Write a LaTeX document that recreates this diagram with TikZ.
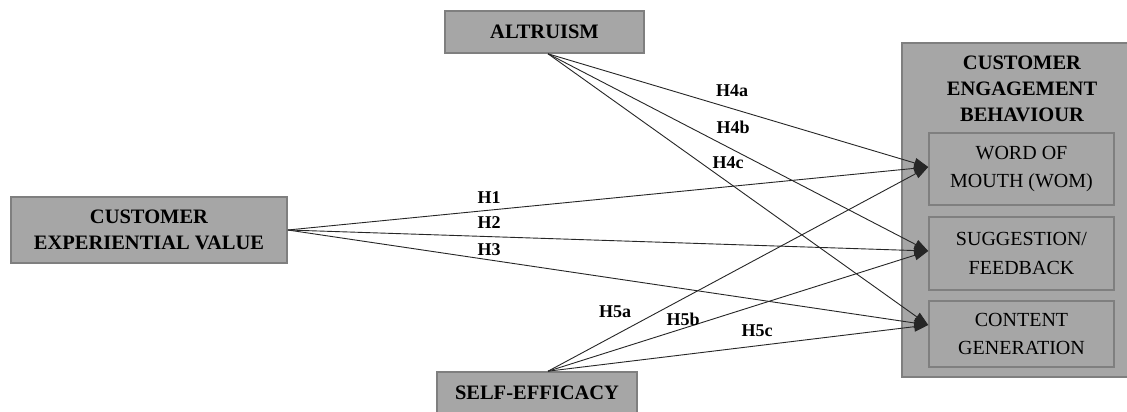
\documentclass[tikz,border=0pt]{standalone}
\usepackage{fontspec}
\setmainfont{Liberation Serif}
\usetikzlibrary{arrows.meta}
\definecolor{boxfill}{HTML}{A6A6A6}
\definecolor{boxline}{HTML}{7F7F7F}
\definecolor{lnk}{HTML}{262626}
\begin{document}
\begin{tikzpicture}[x=1pt,y=-1pt,
  box/.style={draw=boxline,line width=1.6pt,fill=boxfill,inner sep=0pt,align=center},
  boldtxt/.style={font=\fontsize{20.5}{26}\selectfont\bfseries},
  plaintxt/.style={font=\fontsize{20}{28.5}\selectfont},
  lbl/.style={font=\fontsize{18}{20}\selectfont\bfseries,inner sep=0pt},
  link/.style={draw=lnk,line width=0.9pt,-{Triangle[length=14pt,width=10pt]}}]
\clip (0,0) rectangle (1127,412);
\fill[white] (0,0) rectangle (1127,412);
% boxes
\node[box,boldtxt,minimum width=199pt,minimum height=42pt] (alt) at (544.5,32) {ALTRUISM};
\node[box,boldtxt,minimum width=276pt,minimum height=66pt] (cev) at (149,230) {CUSTOMER\\EXPERIENTIAL VALUE};
\node[box,minimum width=200pt,minimum height=44pt] (se) at (537,394) {};
\node[boldtxt,anchor=base] (setxt) at (537,399) {SELF-EFFICACY};
\node[box,minimum width=232pt,minimum height=334pt] (ceb) at (1018,210) {};
\node[boldtxt,align=center,anchor=north] (cebt) at (1022,52) {CUSTOMER\\ENGAGEMENT\\BEHAVIOUR};
\node[box,plaintxt,minimum width=185pt,minimum height=72pt] (wom) at (1021.5,169) {WORD OF\\MOUTH (WOM)};
\node[box,plaintxt,minimum width=185pt,minimum height=73pt] (sug) at (1021.5,253.5) {SUGGESTION/\\FEEDBACK};
\node[box,plaintxt,minimum width=185pt,minimum height=66pt] (cg) at (1021.5,334) {CONTENT\\GENERATION};
% anchor points
\coordinate (a0) at ([xshift=3.5pt]alt.south);
\coordinate (c0) at (cev.east);
\coordinate (s0) at ([xshift=11pt]se.north);
\coordinate (tw) at ([yshift=2pt]wom.west);
\coordinate (ts) at ([yshift=2.5pt]sug.west);
\coordinate (tc) at ([yshift=9pt]cg.west);
% connectors
\draw[link] (a0) -- (tw);
\draw[link] (a0) -- (ts);
\draw[link] (a0) -- (tc);
\draw[link] (c0) -- (tw);
\draw[link] (c0) -- (ts);
\draw[link] (c0) -- (tc);
\draw[link] (s0) -- (tw);
\draw[link] (s0) -- (ts);
\draw[link] (s0) -- (tc);
% labels
\node[lbl] (h4a) at (732,91) {H4a};
\node[lbl] (h4b) at (733,127) {H4b};
\node[lbl] (h4c) at (728,163) {H4c};
\node[lbl] (h1) at (489,198) {H1};
\node[lbl] (h2) at (489,223) {H2};
\node[lbl] (h3) at (489,250) {H3};
\node[lbl] (h5a) at (615,312) {H5a};
\node[lbl] (h5b) at (683,319) {H5b};
\node[lbl] (h5c) at (757,331) {H5c};
\end{tikzpicture}
\end{document}
